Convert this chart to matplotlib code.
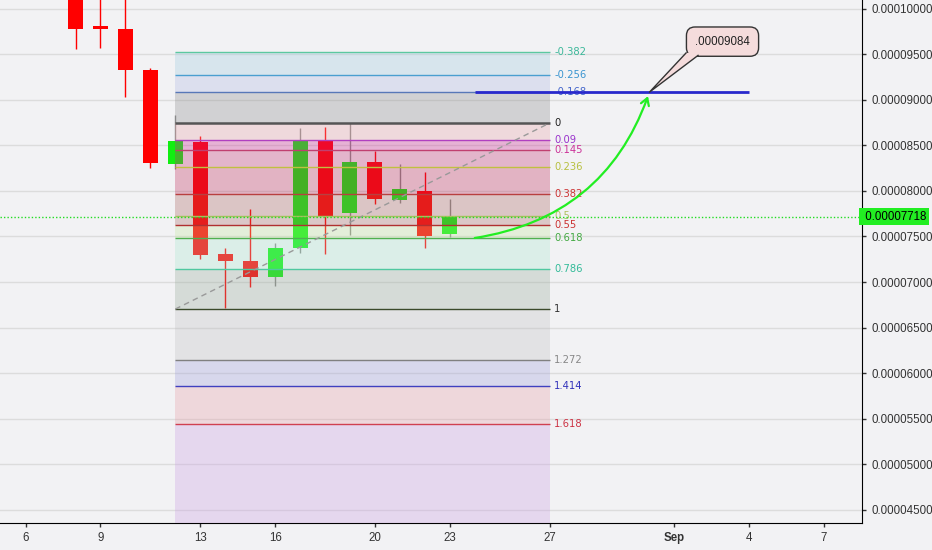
import numpy as np
import matplotlib
matplotlib.use('Agg')
import matplotlib.pyplot as plt
from matplotlib.transforms import blended_transform_factory
from matplotlib.patches import Polygon

# дані свічок (дні серпня)
days = [8, 9, 10, 11, 12, 13, 14, 15, 16, 17, 18, 19, 20, 21, 22, 23]
opens = [0.00010350, 0.00009813, 0.00009780, 0.00009327, 0.00008295, 0.00008536, 0.00007307, 0.00007230,
         0.00007054, 0.00007373, 0.00008558, 0.00007757, 0.00008317, 0.00007900, 0.00007998, 0.00007526]
highs = [0.00010600, 0.00010400, 0.00010250, 0.00009349, 0.00008833, 0.00008602, 0.00007373, 0.00007801,
         0.00007428, 0.00008690, 0.00008701, 0.00008745, 0.00008437, 0.00008295, 0.00008207, 0.00007911]
lows = [0.00009557, 0.00009568, 0.00009030, 0.00008251, 0.00008240, 0.00007252, 0.00006710, 0.00006945,
        0.00006956, 0.00007318, 0.00007307, 0.00007515, 0.00007856, 0.00007867, 0.00007373, 0.00007493]
closes = [0.00009777, 0.00009780, 0.00009327, 0.00008306, 0.00008547, 0.00007296, 0.00007230, 0.00007054,
          0.00007373, 0.00008558, 0.00007724, 0.00008317, 0.00007911, 0.00008020, 0.00007504, 0.00007718]

last_price = 0.00007718
target_price = 0.00009084

# фібо-сітка
fib_start, fib_end = 12, 27
fib_low, fib_high = 0.00006703, 0.00008745
fib_levels = [-0.382, -0.256, -0.168, 0, 0.09, 0.145, 0.236, 0.382, 0.5, 0.55, 0.618, 0.786, 1, 1.272, 1.414, 1.618]
fib_labels = ['-0.382', '-0.256', '-0.168', '0', '0.09', '0.145', '0.236', '0.382', '0.5', '0.55', '0.618',
              '0.786', '1', '1.272', '1.414', '1.618']
line_colors = ['#5cc8a0', '#4a9fd0', '#5878b8', '#555555', '#b040c0', '#c04070', '#c0c040', '#b84040',
               '#a8c060', '#b03030', '#50b050', '#50c8a0', '#3a4a2a', '#808080', '#4040c0', '#d04050']
label_colors = ['#3cb89a', '#3a95d0', '#4466cc', '#222222', '#9933cc', '#cc3399', '#b8c040', '#cc3333',
                '#b0c060', '#cc3333', '#44aa44', '#33bb99', '#333333', '#888888', '#3333bb', '#cc3344']
fill_colors = ['#9bcae0', '#acb6e3', '#878789', '#eba2a7', '#cd2090', '#c32a6f', '#bd2354', '#a95f5b',
               '#a96661', '#c3e89d', '#a9e8cf', '#95a997', '#bdbdbf', '#9b9bda', '#e89ba4', '#ca9be3']

# осі
xticks = [6, 9, 13, 16, 20, 23, 27, 32, 35, 38]
xlabels = ['6', '9', '13', '16', '20', '23', '27', 'Sep', '4', '7']
yticks = [0.000045, 0.00005, 0.000055, 0.00006, 0.000065, 0.00007, 0.000075, 0.00008, 0.000085,
          0.00009, 0.000095, 0.0001]

bg = '#f2f2f4'
fig = plt.figure(figsize=(9.32, 5.5), dpi=100, facecolor=bg)
ax = fig.add_axes([0, 27 / 550, 862 / 932, 523 / 550])
ax.set_facecolor(bg)
ax.set_xlim(4.974, 39.52)
ax.set_ylim(0.000043545, 0.00010096)

for t in yticks:
    ax.axhline(t, color='#dcdcdc', lw=1, zorder=0)

# свічки
for d, o, h, l, c in zip(days, opens, highs, lows, closes):
    up = c >= o
    body = '#11ee11' if up else '#ff0000'
    wick = '#8a8a8a' if up else '#ff0000'
    ax.vlines(d, l, h, color=wick, lw=1, zorder=2)
    ax.bar(d, max(abs(c - o), 3e-7), bottom=min(o, c), width=0.6, color=body, zorder=3)

# фібо рівні та заливки
rng = fib_high - fib_low
prices = [fib_high - lv * rng for lv in fib_levels]
ymin = ax.get_ylim()[0]
for i in range(len(prices)):
    lower = prices[i + 1] if i + 1 < len(prices) else ymin
    ax.fill_between([fib_start, fib_end], prices[i], lower, color=fill_colors[i], alpha=0.3, lw=0, zorder=4)
for p, lc, tc, lab, lv in zip(prices, line_colors, label_colors, fib_labels, fib_levels):
    ax.hlines(p, fib_start, fib_end, colors=lc, lw=1.8 if lv == 0 else 1, zorder=5)
    ax.text(fib_end + 0.18, p, lab, color=tc, va='center', ha='left', fontsize=7.2,
            family='DejaVu Sans', zorder=6)

ax.plot([fib_start, fib_end], [fib_low, fib_high], color='#999999', lw=1, dashes=(4, 3), zorder=5)

# поточна ціна
ax.axhline(last_price, color='#22dd22', lw=1, ls=(0, (1, 1.5)), zorder=6)
tr = blended_transform_factory(ax.transAxes, ax.transData)
ax.text(1.0, last_price, ' %.8f' % last_price, transform=tr, ha='left', va='center', fontsize=8.3,
        family='Liberation Sans', color='black', clip_on=False, zorder=10,
        bbox=dict(boxstyle='square,pad=0.25', fc='#22ee22', ec='none'))

# ціль
ax.hlines(target_price, 24, 35, colors='#2828cc', lw=2, zorder=7)
ax.annotate('', xy=(31, target_price), xytext=(24, 0.00007483),
            arrowprops=dict(arrowstyle='->,head_length=0.5,head_width=0.3', color='#22ee22', lw=1.6,
                            connectionstyle='arc3,rad=0.3', shrinkA=0, shrinkB=3), zorder=8)

# виноска з ціною
ax.text(33.93, 0.00009639, '.%s' % ('%.8f' % target_price)[2:], ha='center', va='center', fontsize=8.3,
        family='Liberation Sans', color='#222222', zorder=9,
        bbox=dict(boxstyle='round,pad=0.75', fc='#f5dcdc', ec='#333333', lw=1))
base_l, base_r = (32.47, 0.00009515), (32.95, 0.00009488)
ax.add_patch(Polygon([base_l, (base_r[0], base_l[1]), base_r, (31, target_price)], closed=True,
                     fc='#f5dcdc', ec='none', zorder=9.5))
ax.plot([base_l[0], 31, base_r[0]], [base_l[1], target_price, base_r[1]], color='#333333', lw=1, zorder=9.6)

# оформлення осей
ax.yaxis.tick_right()
ax.set_yticks(yticks)
ax.set_yticklabels(['%.8f' % t for t in yticks])
ax.set_xticks(xticks)
ax.set_xticklabels(xlabels)
for lab in ax.get_xticklabels():
    if lab.get_text() == 'Sep':
        lab.set_fontweight('bold')
ax.tick_params(axis='both', labelsize=8.3, colors='#333333', length=3, width=1)
for lab in ax.get_xticklabels() + ax.get_yticklabels():
    lab.set_family('Liberation Sans')
ax.spines['top'].set_visible(False)
ax.spines['left'].set_visible(False)
ax.spines['right'].set_color('black')
ax.spines['bottom'].set_color('black')

fig.savefig('out.png', dpi=100, facecolor=bg)
